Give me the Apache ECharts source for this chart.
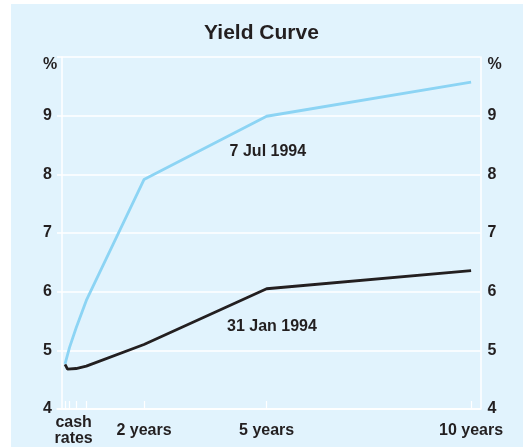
<!DOCTYPE html>
<html>
<head>
<meta charset="utf-8">
<script src="https://cdn.jsdelivr.net/npm/echarts@6/dist/echarts.min.js"></script>
<style>
  html, body { margin: 0; padding: 0; background: #ffffff; }
  #chart { width: 523px; height: 447px; }
</style>
</head>
<body>
<div id="chart"></div>
<script>
// maturity in years (cash, bills, then 2, 5 and 10 year bonds)
const julMaturity = [0.07, 0.18, 0.34, 0.59, 2, 5, 10];
const julYield = [4.77, 5.05, 5.38, 5.85, 7.91, 8.99, 9.57];
const janMaturity = [0.07, 0.13, 0.34, 0.59, 2, 5, 10];
const janYield = [4.76, 4.68, 4.69, 4.73, 5.1, 6.05, 6.36];

const tickValues = [0.07, 0.18, 0.34, 0.59, 2, 5, 10];
const labelValues = [0.28, 2, 5, 10];
const labelTexts = ["cash\nrates", "2 years", "5 years", "10 years"];
const yTicks = [4, 5, 6, 7, 8, 9];

const ink = "#231f20";
const font = "'Liberation Sans', Arial, sans-serif";

function pairs(xs, ys) {
  return xs.map((x, i) => [x, ys[i]]);
}

const myChart = echarts.init(document.getElementById("chart"));
myChart.setOption({
  animation: false,
  backgroundColor: "#ffffff",
  graphic: [
    {
      type: "rect",
      z: -10,
      shape: { x: 11, y: 4, width: 512, height: 443 },
      style: { fill: "#e1f3fd" }
    }
  ],
  title: {
    text: "Yield Curve",
    left: "center",
    top: 18,
    textStyle: { fontFamily: font, fontSize: 21, fontWeight: "bold", color: ink }
  },
  grid: { left: 57, right: 42.5, top: 57, bottom: 34 },
  xAxis: {
    type: "value",
    min: -0.127,
    max: 10.23,
    splitLine: { show: false },
    axisLine: { show: true, lineStyle: { color: "#ffffff", width: 1.5 } },
    axisTick: {
      show: true,
      inside: true,
      length: 8,
      customValues: tickValues,
      lineStyle: { color: "#ffffff", width: 1.2 }
    },
    axisLabel: {
      customValues: labelValues,
      formatter: function (v) {
        const i = labelValues.indexOf(v);
        return i >= 0 ? labelTexts[i] : "";
      },
      verticalAlign: "middle",
      margin: 22,
      lineHeight: 16,
      fontFamily: font,
      fontSize: 16,
      fontWeight: "bold",
      color: ink
    }
  },
  yAxis: [
    {
      type: "value",
      min: 4,
      max: 10,
      interval: 1,
      name: "%",
      nameLocation: "end",
      nameGap: -8,
      nameTextStyle: {
        fontFamily: font, fontSize: 16, fontWeight: "bold", color: ink,
        align: "right", verticalAlign: "middle", padding: [0, 5, 0, 0]
      },
      axisLine: { show: true, lineStyle: { color: "#ffffff", width: 1.5 } },
      axisTick: { show: false },
      splitLine: { show: true, lineStyle: { color: "#ffffff", width: 1.5 } },
      axisLabel: {
        margin: 5,
        formatter: v => (yTicks.indexOf(v) >= 0 ? String(v) : ""),
        fontFamily: font, fontSize: 16, fontWeight: "bold", color: ink
      }
    },
    {
      type: "value",
      position: "right",
      min: 4,
      max: 10,
      interval: 1,
      name: "%",
      nameLocation: "end",
      nameGap: -8,
      nameTextStyle: {
        fontFamily: font, fontSize: 16, fontWeight: "bold", color: ink,
        align: "left", verticalAlign: "middle", padding: [0, 0, 0, 7]
      },
      axisLine: { show: true, lineStyle: { color: "#ffffff", width: 1.5 } },
      axisTick: { show: false },
      splitLine: { show: false },
      axisLabel: {
        margin: 7,
        formatter: v => (yTicks.indexOf(v) >= 0 ? String(v) : ""),
        fontFamily: font, fontSize: 16, fontWeight: "bold", color: ink
      }
    }
  ],
  series: [
    {
      name: "31 Jan 1994",
      type: "line",
      data: pairs(janMaturity, janYield),
      showSymbol: false,
      lineStyle: { color: ink, width: 2.8 },
      markPoint: {
        symbol: "circle",
        symbolSize: 0,
        label: {
          show: true, position: "inside", formatter: "31 Jan 1994",
          fontFamily: font, fontSize: 16, fontWeight: "bold", color: ink
        },
        data: [{ coord: [5.13, 5.4] }]
      }
    },
    {
      name: "7 Jul 1994",
      type: "line",
      data: pairs(julMaturity, julYield),
      showSymbol: false,
      lineStyle: { color: "#8cd4f4", width: 2.8 },
      markPoint: {
        symbol: "circle",
        symbolSize: 0,
        label: {
          show: true, position: "inside", formatter: "7 Jul 1994",
          fontFamily: font, fontSize: 16, fontWeight: "bold", color: ink
        },
        data: [{ coord: [5.03, 8.38] }]
      }
    }
  ]
});
</script>
</body>
</html>
